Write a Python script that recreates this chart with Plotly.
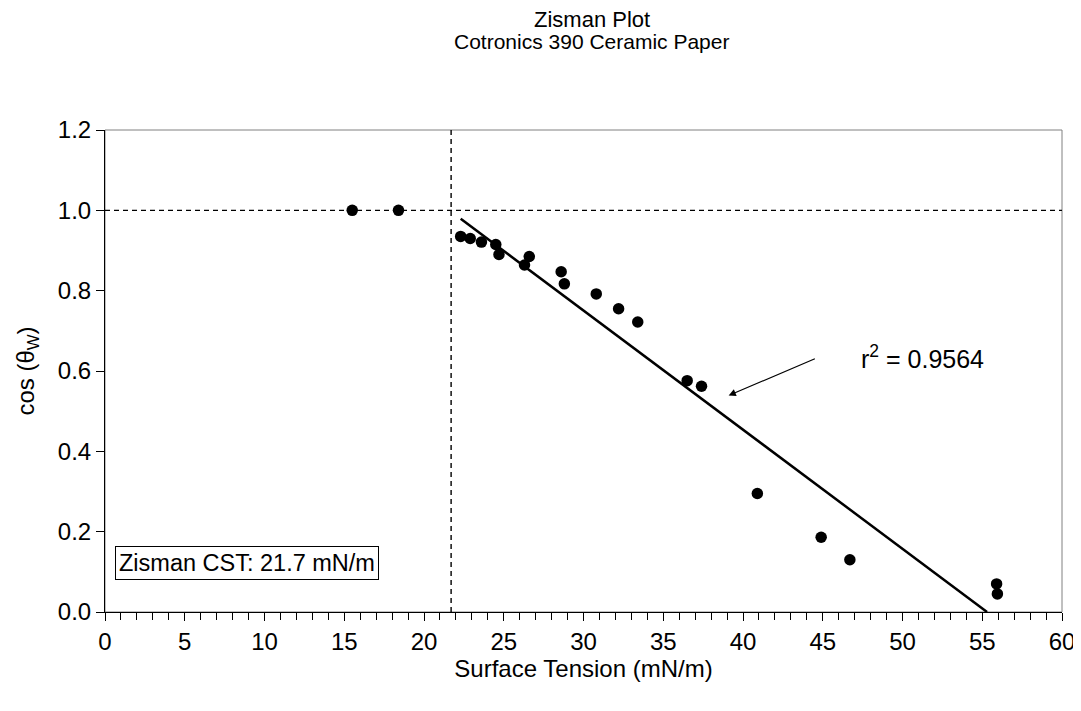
import plotly.graph_objects as go

# Data
surface_tension = [15.5, 18.4, 22.3, 22.9, 23.6, 24.5, 24.7, 26.3, 26.6, 28.6, 28.8,
                   30.8, 32.2, 33.4, 36.5, 37.4, 40.9, 44.9, 46.7, 55.9, 55.95]
cos_theta = [1.0, 1.0, 0.935, 0.930, 0.921, 0.915, 0.890, 0.864, 0.885, 0.847, 0.817,
             0.792, 0.755, 0.722, 0.576, 0.562, 0.295, 0.186, 0.130, 0.070, 0.045]

fit_x = [22.3, 55.3]
fit_y = [0.979, 0.0]

cst_value = 21.7
r_squared = 0.9564
unity_x = [0, 60]
unity_y = [1.0, 1.0]
cst_line_y = [0, 1.2]

x_ticks = [0, 5, 10, 15, 20, 25, 30, 35, 40, 45, 50, 55, 60]
y_ticks = [0.0, 0.2, 0.4, 0.6, 0.8, 1.0, 1.2]

FONT = "Liberation Sans, Arial, sans-serif"

fig = go.Figure()

fig.add_trace(go.Scatter(x=unity_x, y=unity_y, mode="lines",
                         line=dict(color="black", width=1.4, dash="5px,4px"),
                         showlegend=False, hoverinfo="skip"))
fig.add_trace(go.Scatter(x=[cst_value, cst_value], y=cst_line_y, mode="lines",
                         line=dict(color="black", width=1.4, dash="5px,4px"),
                         showlegend=False, hoverinfo="skip"))
fig.add_trace(go.Scatter(x=fit_x, y=fit_y, mode="lines",
                         line=dict(color="black", width=2.5),
                         showlegend=False))
fig.add_trace(go.Scatter(x=surface_tension, y=cos_theta, mode="markers",
                         marker=dict(color="black", size=11.5),
                         showlegend=False))

# Plot area border (faint)
fig.add_shape(type="rect", xref="x domain", yref="y domain", x0=0, x1=1, y0=0, y1=1,
              line=dict(color="#808080", width=1), layer="below")

fig.add_annotation(x=0.5, y=1, xref="paper", yref="paper", yanchor="middle",
                   yshift=111, xshift=8, text="Zisman Plot", showarrow=False,
                   font=dict(family=FONT, size=22, color="black"))
fig.add_annotation(x=0.5, y=1, xref="paper", yref="paper", yanchor="middle",
                   yshift=89, xshift=8, text="Cotronics 390 Ceramic Paper", showarrow=False,
                   font=dict(family=FONT, size=21, color="black"))

fig.add_annotation(x=47.3, y=0.636, xref="x", yref="y", xanchor="left",
                   text="r<sup>2</sup> = %.4f" % r_squared, showarrow=False,
                   font=dict(family=FONT, size=25, color="black"))
fig.add_annotation(x=39.1, y=0.539, xref="x", yref="y", ax=44.6, ay=0.632,
                   axref="x", ayref="y", text="", showarrow=True,
                   arrowhead=2, arrowsize=1.2, arrowwidth=1.2, arrowcolor="black")

fig.add_annotation(x=0.63, y=0.1215, xref="x", yref="y", xanchor="left",
                   text="Zisman CST: %.1f mN/m" % cst_value, showarrow=False,
                   bordercolor="black", borderwidth=1, borderpad=3, bgcolor="white",
                   font=dict(family=FONT, size=23.5, color="black"))

fig.update_layout(
    width=1073, height=703,
    margin=dict(l=97, r=19, t=122, b=99, autoexpand=False),
    paper_bgcolor="white", plot_bgcolor="white",
    font=dict(family=FONT, size=24, color="black"),
    xaxis=dict(range=[0, 60], tickvals=x_ticks, ticks="outside", ticklen=8,
               tickcolor="black", showline=True, linecolor="black", linewidth=1,
               showgrid=False, zeroline=False, automargin=False,
               minor=dict(dtick=1, ticks="outside", ticklen=7, tickcolor="black"),
               title=dict(text="Surface Tension (mN/m)", standoff=3,
                          font=dict(family=FONT, size=24)),
               tickfont=dict(family=FONT, size=24)),
    yaxis=dict(range=[0, 1.2], tickvals=y_ticks, tickformat=".1f",
               ticks="outside", ticklen=8,
               tickcolor="black", showline=True, linecolor="black", linewidth=1,
               showgrid=False, zeroline=False, automargin=False,
               title=dict(text="cos (θ<sub>W</sub>)", standoff=16,
                          font=dict(family=FONT, size=24)),
               tickfont=dict(family=FONT, size=24)),
)

fig.write_html("out.html")
